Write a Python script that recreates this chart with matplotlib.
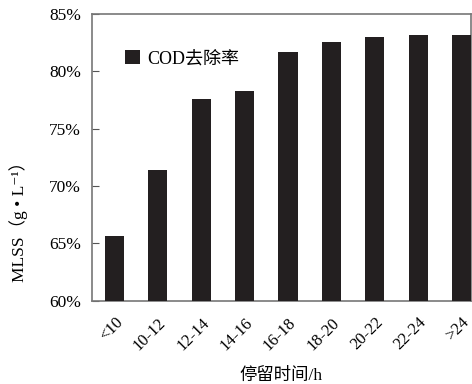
import matplotlib
matplotlib.use("Agg")
import matplotlib.pyplot as plt
from matplotlib.ticker import FuncFormatter

# data
categories = ["<10", "10-12", "12-14", "14-16", "16-18", "18-20", "20-22", "22-24", ">24"]
cod_removal = [65.6, 71.4, 77.6, 78.3, 81.7, 82.6, 83.0, 83.2, 83.2]

plt.rcParams['font.family'] = ['Liberation Serif', 'Noto Sans CJK SC', 'DejaVu Sans']

fig = plt.figure(figsize=(4.72, 3.84), dpi=100)
ax = fig.add_axes([92 / 472, 1 - 300.7 / 384, (471 - 92) / 472, (300.7 - 14) / 384])

x = range(len(categories))
ax.bar(x, cod_removal, width=0.44, color='#231f20', label='COD去除率', zorder=3)

ax.set_ylim(60, 85)
ax.set_xlim(-0.52, 8.22)
ax.set_yticks([60, 65, 70, 75, 80, 85])
ax.yaxis.set_major_formatter(FuncFormatter(lambda v, p: f"{v:.0f}%"))
ax.tick_params(axis='y', direction='in', length=5, labelsize=12.5, pad=8, color='#555555')
ax.set_xticks(list(x))
ax.set_xticklabels(categories, rotation=45, ha='right', rotation_mode='anchor', fontsize=12)
ax.tick_params(axis='x', length=0, pad=10)
for s in ax.spines.values():
    s.set_color('#777777')
    s.set_linewidth(1.2)

ax.set_xlabel('停留时间/h', fontsize=12.5, labelpad=10)
ax.set_ylabel('MLSS（g • L⁻¹）', fontsize=12.5)
ax.yaxis.set_label_coords(-0.168, 0.29)

ax.legend(loc='upper left', bbox_to_anchor=(0.045, 0.93), frameon=False, fontsize=13,
          handlelength=0.8, handleheight=0.8, handletextpad=0.4)

fig.savefig("out.png", dpi=100)
